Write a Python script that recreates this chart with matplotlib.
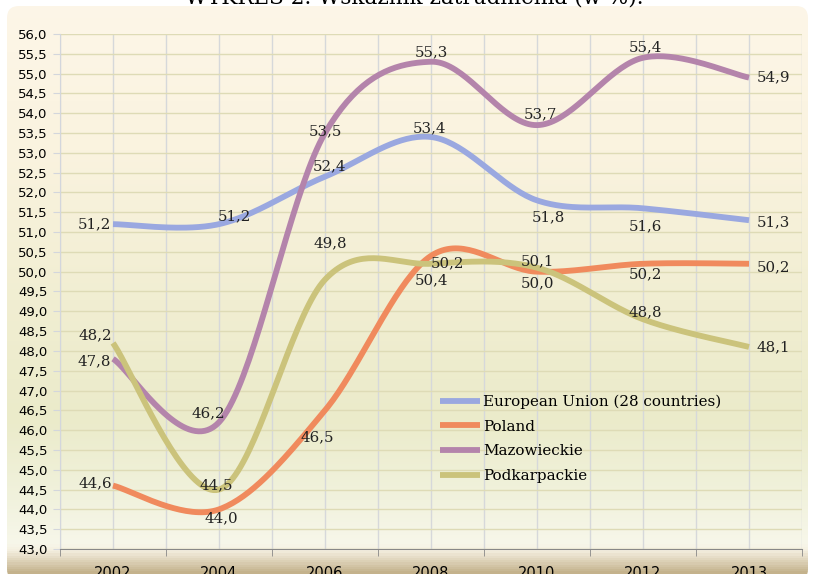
# Employment rate chart (w %)

import numpy as np
import matplotlib
matplotlib.use('Agg')
import matplotlib.pyplot as plt
from matplotlib.patches import FancyBboxPatch
from matplotlib.colors import LinearSegmentedColormap

years = ['2002', '2004', '2006', '2008', '2010', '2012', '2013']
eu = [51.2, 51.2, 52.4, 53.4, 51.8, 51.6, 51.3]
poland = [44.6, 44.0, 46.5, 50.4, 50.0, 50.2, 50.2]
mazowieckie = [47.8, 46.2, 53.5, 55.3, 53.7, 55.4, 54.9]
podkarpackie = [48.2, 44.5, 49.8, 50.2, 50.1, 48.8, 48.1]
names = ['European Union (28 countries)', 'Poland', 'Mazowieckie', 'Podkarpackie']

colors = ['#9aa8e0', '#f08a5d', '#b484ab', '#cbc37b']
# label offsets in pixels (dx, dy) from each point
offsets = [
    [(-19, 0), (15, 8), (5, 10), (-2, 9), (11, -17), (2, -18), (24, -2)],
    [(-18, 2), (2, -9), (-8, -27), (1, -24), (0, -12), (2, -11), (24, -4)],
    [(-19, -2), (-11, 9), (0, 2), (0, 9), (3, 11), (2, 10), (24, 0)],
    [(-18, 8), (-3, 4), (5, 36), (17, 0), (0, 6), (2, 7), (24, 0)],
]


def smooth(y, n=40):
    # bezier smoothing like a spreadsheet "smoothed line"
    y = np.asarray(y, float)
    x = np.arange(len(y), dtype=float)
    px = np.concatenate([[x[0]], x, [x[-1]]])
    py = np.concatenate([[y[0]], y, [y[-1]]])
    xs, ys = [], []
    t = np.linspace(0, 1, n)
    for i in range(len(y) - 1):
        p0x, p0y = px[i + 1], py[i + 1]
        p3x, p3y = px[i + 2], py[i + 2]
        c1x = p0x + (px[i + 2] - px[i]) / 6
        c1y = p0y + (py[i + 2] - py[i]) / 6
        c2x = p3x - (px[i + 3] - px[i + 1]) / 6
        c2y = p3y - (py[i + 3] - py[i + 1]) / 6
        b0, b1, b2, b3 = (1 - t) ** 3, 3 * (1 - t) ** 2 * t, 3 * (1 - t) * t ** 2, t ** 3
        xs.append(b0 * p0x + b1 * c1x + b2 * c2x + b3 * p3x)
        ys.append(b0 * p0y + b1 * c1y + b2 * c2y + b3 * p3y)
    return np.concatenate(xs), np.concatenate(ys)


W, H = 817, 574
fig = plt.figure(figsize=(W / 100, H / 100), dpi=100)
fig.patch.set_facecolor('white')

# background with gradient inside a rounded box
bg = fig.add_axes([0, 0, 1, 1], zorder=-10)
bg.set_xlim(0, W)
bg.set_ylim(H, 0)
bg.axis('off')
stops = [(0.0, '#fdf6e8'), (150, '#faf3df'), (300, '#f1eed2'), (420, '#ebebca'),
         (500, '#f1f2dd'), (545, '#f7f7ea'), (552, '#f4efe0'), (574, '#c4b28c')]
cmap = LinearSegmentedColormap.from_list('bgc', [(s / H, c) for s, c in stops])
grad = np.linspace(0, 1, H).reshape(-1, 1)
im = bg.imshow(grad, cmap=cmap, aspect='auto', extent=(0, W, H, 0), vmin=0, vmax=1)
box = FancyBboxPatch((7, 6), 801, 575, boxstyle='round,pad=0,rounding_size=12',
                     transform=bg.transData, facecolor='none', edgecolor='none')
bg.add_patch(box)
im.set_clip_path(box)

# title is cut off at the top edge in the source
fig.text(414 / W, 1 - 4 / H, 'WYKRES 2. Wskaźnik zatrudnienia (w %).', ha='center',
         va='baseline', fontsize=15.5, family='DejaVu Serif', zorder=5)

ax = fig.add_axes([60 / W, 1 - 549 / H, (802 - 60) / W, (549 - 34) / H])
ax.set_facecolor('none')
ax.set_xlim(-0.5, 6.5)
ax.set_ylim(43, 56)

series = [eu, poland, mazowieckie, podkarpackie]
for vals, name, col, offs in zip(series, names, colors, offsets):
    sx, sy = smooth(vals)
    ax.plot(sx, sy, color=col, lw=4.2, solid_capstyle='butt', label=name, zorder=3)
    for i, v in enumerate(vals):
        ax.annotate(f'{v:.1f}'.replace('.', ','), (i, v), xytext=offs[i],
                    textcoords='offset pixels', ha='center', va='center',
                    fontsize=10.8, family='DejaVu Serif', color='#222222', zorder=4)

ax.set_yticks(np.arange(43, 56.01, 0.5))
ax.set_yticklabels([f'{v:.1f}'.replace('.', ',') for v in np.arange(43, 56.01, 0.5)])
ax.set_xticks(range(len(years)))
ax.set_xticklabels(years)
ax.set_xticks(np.arange(-0.5, 6.6, 1), minor=True)
ax.tick_params(axis='x', which='major', length=0, pad=12, labelsize=10.5)
ax.tick_params(axis='x', which='minor', length=5, color='#888888')
ax.tick_params(axis='y', length=5, color='#d3d6dc', labelsize=9.5, pad=4)
ax.grid(axis='y', color='#dedbb6', lw=1)
ax.grid(axis='x', which='both', color='#d6d8da', lw=1)
ax.set_axisbelow(True)
for s in ['top', 'right']:
    ax.spines[s].set_visible(False)
ax.spines['left'].set_color('#d3d6dc')
ax.spines['bottom'].set_color('#888888')

ax.legend(loc='upper left', bbox_to_anchor=(426 / W, 1 - 381 / H),
          bbox_transform=fig.transFigure, frameon=False,
          prop={'family': 'DejaVu Serif', 'size': 10.9},
          handlelength=2.7, handletextpad=0.15, labelspacing=0.7)

fig.savefig('out.png', dpi=100)
